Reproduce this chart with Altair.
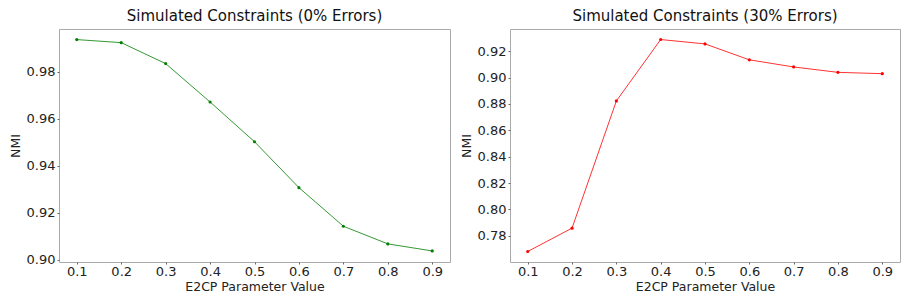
import altair as alt
import pandas as pd

params = [0.1, 0.2, 0.3, 0.4, 0.5, 0.6, 0.7, 0.8, 0.9]
nmi_0pct = [0.9936, 0.9923, 0.9834, 0.9671, 0.9502, 0.9307, 0.9143, 0.9068, 0.9038]
nmi_30pct = [0.7681, 0.7858, 0.8823, 0.9289, 0.9256, 0.9135, 0.9081, 0.9040, 0.9030]

ticks_0pct = [0.90, 0.92, 0.94, 0.96, 0.98]
ticks_30pct = [0.78, 0.80, 0.82, 0.84, 0.86, 0.88, 0.90, 0.92]

titles = ["Simulated Constraints (0% Errors)", "Simulated Constraints (30% Errors)"]
colors = ["#008000", "#ff0000"]


def panel(values, color, title, ydomain, yticks, w):
    df = pd.DataFrame({"p": params, "nmi": values})
    base = alt.Chart(df)
    x = alt.X(
        "p:Q",
        scale=alt.Scale(domain=[0.06, 0.94], nice=False, zero=False),
        axis=alt.Axis(values=params, format=".1f", title="E2CP Parameter Value",
                      titlePadding=2, labelPadding=1),
    )
    y = alt.Y(
        "nmi:Q",
        scale=alt.Scale(domain=ydomain, nice=False, zero=False),
        axis=alt.Axis(values=yticks, format=".2f", title="NMI"),
    )
    line = base.mark_line(color=color, strokeWidth=1, opacity=0.8).encode(x=x, y=y)
    pts = base.mark_circle(color=color, size=10, opacity=1).encode(x=x, y=y)
    return (line + pts).properties(width=w, height=233, title=title)


left = panel(nmi_0pct, colors[0], titles[0], [0.8991, 0.9981], ticks_0pct, 391)
right = panel(nmi_30pct, colors[1], titles[1], [0.7601, 0.9369], ticks_30pct, 390)

chart = (
    alt.hconcat(left, right, spacing=8)
    .properties(padding=0)
    .configure_view(stroke="#aaaaaa", strokeWidth=1)
    .configure_axis(
        domain=False,
        grid=False,
        labelFont="DejaVu Sans",
        labelFontSize=13,
        labelColor="#222222",
        titleFont="DejaVu Sans",
        titleFontSize=12.5,
        titleFontWeight="normal",
        titleColor="#222222",
        tickSize=2,
        tickColor="#666666",
        labelPadding=2,
        titlePadding=4,
    )
    .configure_title(
        font="DejaVu Sans",
        fontSize=15,
        fontWeight="normal",
        color="#111111",
        anchor="middle",
        offset=5,
    )
)

chart.save("out.html", embed_options={"renderer": "svg", "actions": False})
